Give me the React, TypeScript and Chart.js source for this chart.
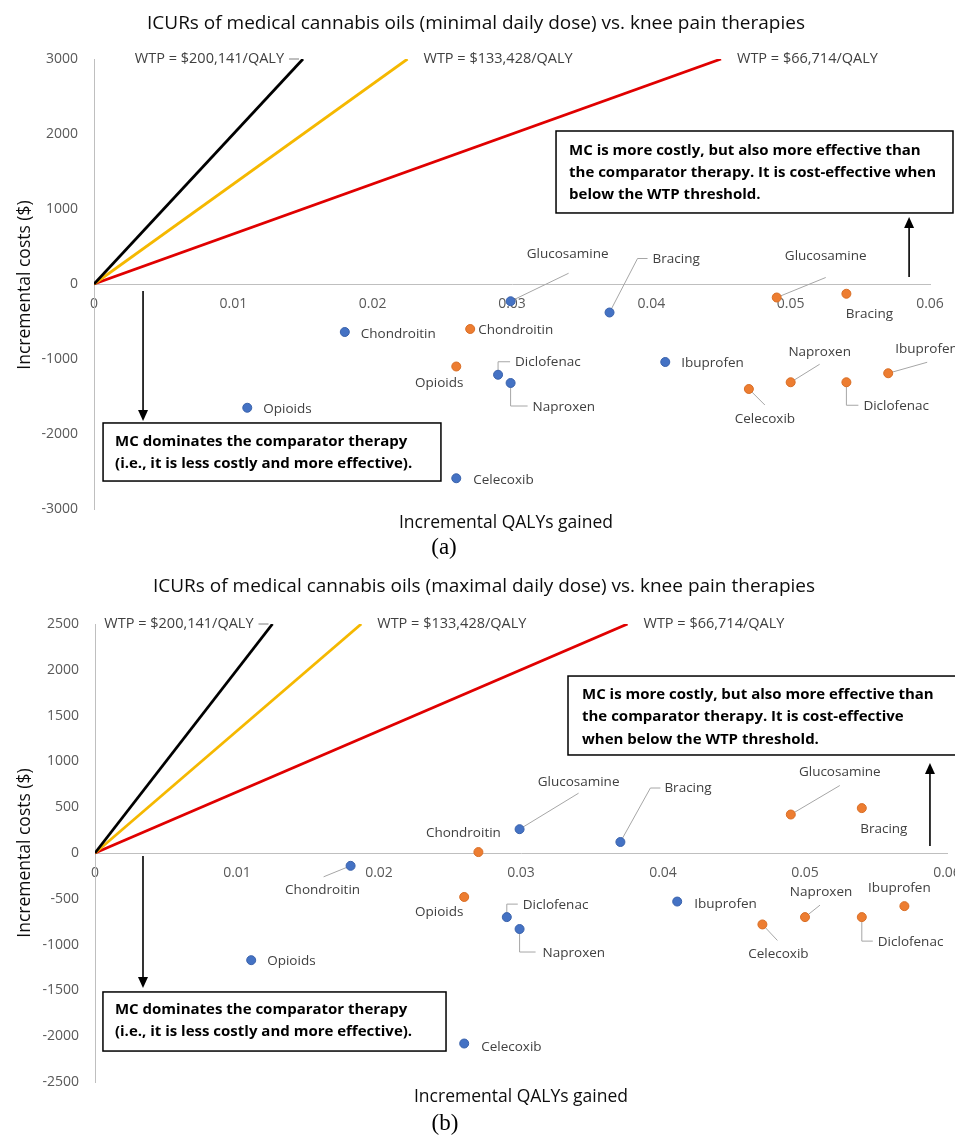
import React, { useEffect, useRef } from "react";
import { Chart, registerables } from "chart.js";

Chart.register(...registerables);

// ---------------- DATA ----------------
const therapies = ["Opioids", "Chondroitin", "Glucosamine", "Bracing", "Diclofenac", "Naproxen", "Ibuprofen", "Celecoxib"];

// (a) minimal daily dose
const minBlueQaly = [0.011, 0.018, 0.0299, 0.037, 0.029, 0.0299, 0.041, 0.026];
const minBlueCost = [-1650, -640, -230, -380, -1210, -1320, -1040, -2590];
const minOrangeQaly = [0.026, 0.027, 0.049, 0.054, 0.054, 0.05, 0.057, 0.047];
const minOrangeCost = [-1100, -600, -180, -130, -1310, -1310, -1190, -1400];

// (b) maximal daily dose
const maxBlueQaly = [0.011, 0.018, 0.0299, 0.037, 0.029, 0.0299, 0.041, 0.026];
const maxBlueCost = [-1170, -140, 260, 120, -700, -830, -530, -2080];
const maxOrangeQaly = [0.026, 0.027, 0.049, 0.054, 0.054, 0.05, 0.057, 0.047];
const maxOrangeCost = [-480, 10, 420, 490, -700, -700, -580, -780];

// WTP threshold lines (end point QALY where line reaches the top of the axis)
const wtpLabels = ["WTP = $200,141/QALY", "WTP = $133,428/QALY", "WTP = $66,714/QALY"];
const wtpEndQalyA = [0.015, 0.0225, 0.045];
const wtpEndQalyB = [0.0125, 0.01875, 0.0375];

const xTickLabels = ["0", "0.01", "0.02", "0.03", "0.04", "0.05", "0.06"];
const yTicksA = [3000, 2000, 1000, 0, -1000, -2000, -3000];
const yTicksB = [2500, 2000, 1500, 1000, 500, 0, -500, -1000, -1500, -2000, -2500];

const titleA = "ICURs of medical cannabis oils (minimal daily dose) vs. knee pain therapies";
const titleB = "ICURs of medical cannabis oils (maximal daily dose) vs. knee pain therapies";
const xTitle = "Incremental QALYs gained";
const yTitle = "Incremental costs ($)";
const boxTopA = ["MC is more costly, but also more effective than", "the comparator therapy. It is cost-effective when", "below the WTP threshold."];
const boxTopB = ["MC is more costly, but also more effective than", "the comparator therapy. It is cost-effective", "when below the WTP threshold."];
const boxBottom = ["MC dominates the comparator therapy", "(i.e., it is less costly and more effective)."];

// ---------------- STYLE / LAYOUT ----------------
const FONT = '"Open Sans", "Noto Sans", sans-serif';
const BLUE = "#4472C4";
const ORANGE = "#ED7D31";
const WTP_COLORS = ["#000000", "#F5B800", "#E00000"];

type LabelSpec = { dx: number; dy: number; align: "left" | "center"; leader?: number[][] };

// order follows `therapies`
const labelsMinBlue: LabelSpec[] = [
  { dx: 16, dy: 1, align: "left" },
  { dx: 16, dy: 2, align: "left" },
  { dx: 57, dy: -47, align: "center", leader: [[0, 0], [58, -28]] },
  { dx: 43, dy: -53, align: "left", leader: [[0, 0], [28, -54], [38, -54]] },
  { dx: 17, dy: -13, align: "left", leader: [[0, -3], [0, -13], [12, -13]] },
  { dx: 22, dy: 24, align: "left", leader: [[0, 3], [0, 23], [17, 23]] },
  { dx: 16, dy: 1, align: "left" },
  { dx: 17, dy: 2, align: "left" },
];
const labelsMinOrange: LabelSpec[] = [
  { dx: -17, dy: 17, align: "center" },
  { dx: 8, dy: 1, align: "left" },
  { dx: 49, dy: -41, align: "center", leader: [[0, 0], [49, -20]] },
  { dx: 23, dy: 20, align: "center" },
  { dx: 17, dy: 24, align: "left", leader: [[0, 3], [0, 23], [12, 23]] },
  { dx: 29, dy: -30, align: "center", leader: [[0, 0], [29, -18]] },
  { dx: 7, dy: -24, align: "left", leader: [[0, 0], [39, -11]] },
  { dx: 16, dy: 30, align: "center", leader: [[0, 0], [16, 16]] },
];
const labelsMaxBlue: LabelSpec[] = [
  { dx: 16, dy: 1, align: "left" },
  { dx: -28, dy: 24, align: "center", leader: [[0, 0], [-27, 11]] },
  { dx: 59, dy: -47, align: "center", leader: [[0, 0], [59, -36]] },
  { dx: 44, dy: -54, align: "left", leader: [[0, 0], [30, -54], [40, -54]] },
  { dx: 16, dy: -12, align: "left", leader: [[0, -3], [0, -13], [11, -13]] },
  { dx: 23, dy: 24, align: "left", leader: [[0, 3], [0, 23], [16, 23]] },
  { dx: 17, dy: 3, align: "left" },
  { dx: 17, dy: 4, align: "left" },
];
const labelsMaxOrange: LabelSpec[] = [
  { dx: -25, dy: 15, align: "center" },
  { dx: -15, dy: -19, align: "center" },
  { dx: 49, dy: -42, align: "center", leader: [[0, 0], [49, -29]] },
  { dx: 22, dy: 21, align: "center" },
  { dx: 16, dy: 25, align: "left", leader: [[0, 3], [0, 24], [11, 24]] },
  { dx: 16, dy: -25, align: "center", leader: [[0, 0], [15, -12]] },
  { dx: -5, dy: -18, align: "center" },
  { dx: 16, dy: 30, align: "center", leader: [[0, 0], [15, 16]] },
];

interface Box {
  x0: number;
  x1: number;
  y0: number;
  y1: number;
  lines: string[];
  tx: number;
  ty: number[];
}

interface Spec {
  width: number;
  height: number;
  top: number;
  axisLeft: number;
  padTop: number;
  padRight: number;
  padBottom: number;
  yMin: number;
  yMax: number;
  yStep: number;
  yTicks: number[];
  blueQaly: number[];
  blueCost: number[];
  orangeQaly: number[];
  orangeCost: number[];
  blueLabels: LabelSpec[];
  orangeLabels: LabelSpec[];
  wtpEnd: number[];
  title: string;
  titlePos: number[];
  xTitlePos: number[];
  yTitlePos: number[];
  caption: string;
  captionPos: number[];
  topBox: Box;
  bottomBox: Box;
  upArrow: { x: number; from: number; to: number };
  downArrow: { x: number; from: number; to: number };
}

const specA: Spec = {
  width: 955,
  height: 565,
  top: 0,
  axisLeft: 94,
  padTop: 59,
  padRight: 25,
  padBottom: 56,
  yMin: -3000,
  yMax: 3000,
  yStep: 1000,
  yTicks: yTicksA,
  blueQaly: minBlueQaly,
  blueCost: minBlueCost,
  orangeQaly: minOrangeQaly,
  orangeCost: minOrangeCost,
  blueLabels: labelsMinBlue,
  orangeLabels: labelsMinOrange,
  wtpEnd: wtpEndQalyA,
  title: titleA,
  titlePos: [476, 24],
  xTitlePos: [506, 523],
  yTitlePos: [25, 285],
  caption: "(a)",
  captionPos: [444, 548],
  topBox: { x0: 0.03316, x1: 0.06165, y0: 2040, y1: 947, lines: boxTopA, tx: 13, ty: [20, 42, 64] },
  bottomBox: { x0: 0.00065, x1: 0.0249, y0: -1853, y1: -2627, lines: boxBottom, tx: 12, ty: [19, 41] },
  upArrow: { x: 0.0585, from: 93, to: 893 },
  downArrow: { x: 0.00352, from: -93, to: -1827 },
};

const specB: Spec = {
  width: 955,
  height: 572,
  top: 565,
  axisLeft: 95,
  padTop: 59,
  padRight: 8,
  padBottom: 55,
  yMin: -2500,
  yMax: 2500,
  yStep: 500,
  yTicks: yTicksB,
  blueQaly: maxBlueQaly,
  blueCost: maxBlueCost,
  orangeQaly: maxOrangeQaly,
  orangeCost: maxOrangeCost,
  blueLabels: labelsMaxBlue,
  orangeLabels: labelsMaxOrange,
  wtpEnd: wtpEndQalyB,
  title: titleB,
  titlePos: [484, 22],
  xTitlePos: [521, 532],
  yTitlePos: [25, 288],
  caption: "(b)",
  captionPos: [445, 559],
  topBox: { x0: 0.03331, x1: 0.0607, y0: 1932, y1: 1070, lines: boxTopB, tx: 14, ty: [19, 41, 64] },
  bottomBox: { x0: 0.00056, x1: 0.02472, y0: -1517, y1: -2162, lines: boxBottom, tx: 12, ty: [18, 40] },
  upArrow: { x: 0.0588, from: 76, to: 983 },
  downArrow: { x: 0.00338, from: -33, to: -1474 },
};

function drawArrow(ctx: CanvasRenderingContext2D, x: number, y1: number, y2: number) {
  const dir = y2 > y1 ? 1 : -1;
  ctx.strokeStyle = "#000";
  ctx.fillStyle = "#000";
  ctx.lineWidth = 1.6;
  ctx.beginPath();
  ctx.moveTo(x, y1);
  ctx.lineTo(x, y2 - dir * 9);
  ctx.stroke();
  ctx.beginPath();
  ctx.moveTo(x, y2);
  ctx.lineTo(x - 5, y2 - dir * 11);
  ctx.lineTo(x + 5, y2 - dir * 11);
  ctx.closePath();
  ctx.fill();
}

function makePlugin(spec: Spec) {
  return {
    id: "annotations",
    beforeDatasetsDraw(chart: any) {
      const ctx: CanvasRenderingContext2D = chart.ctx;
      ctx.save();
      ctx.strokeStyle = "#A6A6A6";
      ctx.lineWidth = 1;
      const sets: [number, LabelSpec[]][] = [
        [3, spec.blueLabels],
        [4, spec.orangeLabels],
      ];
      sets.forEach(([di, labels]) => {
        const meta = chart.getDatasetMeta(di);
        meta.data.forEach((pt: any, j: number) => {
          const l = labels[j];
          if (!l || !l.leader) return;
          ctx.beginPath();
          l.leader.forEach((p, k) => {
            const px = pt.x + p[0];
            const py = pt.y + p[1];
            if (k === 0) ctx.moveTo(px, py);
            else ctx.lineTo(px, py);
          });
          ctx.stroke();
        });
      });
      ctx.restore();
    },
    afterDraw(chart: any) {
      const ctx: CanvasRenderingContext2D = chart.ctx;
      const xs = chart.scales.x;
      const ys = chart.scales.y;
      const X = (v: number) => xs.getPixelForValue(v);
      const Y = (v: number) => ys.getPixelForValue(v);
      ctx.save();

      // title
      ctx.fillStyle = "#0d0d0d";
      ctx.font = `19px ${FONT}`;
      ctx.textAlign = "center";
      ctx.textBaseline = "middle";
      ctx.fillText(spec.title, spec.titlePos[0], spec.titlePos[1]);

      // axis titles
      ctx.font = `17.5px ${FONT}`;
      ctx.fillText(xTitle, spec.xTitlePos[0], spec.xTitlePos[1]);
      ctx.save();
      ctx.translate(spec.yTitlePos[0], spec.yTitlePos[1]);
      ctx.rotate(-Math.PI / 2);
      ctx.fillText(yTitle, 0, 0);
      ctx.restore();

      // caption
      ctx.fillStyle = "#000";
      ctx.font = `23px "Liberation Serif", "Times New Roman", serif`;
      ctx.fillText(spec.caption, spec.captionPos[0], spec.captionPos[1]);

      // WTP labels
      ctx.font = `14.5px ${FONT}`;
      ctx.fillStyle = "#404040";
      spec.wtpEnd.forEach((e, i) => {
        const ex = X(e);
        const ey = Y(spec.yMax);
        if (i === 0) {
          ctx.textAlign = "right";
          ctx.fillText(wtpLabels[i], ex - 19, ey);
          ctx.strokeStyle = "#7f7f7f";
          ctx.lineWidth = 1;
          ctx.beginPath();
          ctx.moveTo(ex - 14, ey);
          ctx.lineTo(ex - 4, ey);
          ctx.stroke();
        } else {
          ctx.textAlign = "left";
          ctx.fillText(wtpLabels[i], ex + 16, ey);
        }
      });

      // data labels
      ctx.font = `13.5px ${FONT}`;
      ctx.fillStyle = "#404040";
      const sets: [number, LabelSpec[]][] = [
        [3, spec.blueLabels],
        [4, spec.orangeLabels],
      ];
      sets.forEach(([di, labels]) => {
        const meta = chart.getDatasetMeta(di);
        meta.data.forEach((pt: any, j: number) => {
          const l = labels[j];
          if (!l) return;
          ctx.textAlign = l.align;
          ctx.fillText(therapies[j], pt.x + l.dx, pt.y + l.dy);
        });
      });

      // boxes
      [spec.topBox, spec.bottomBox].forEach((b) => {
        const left = X(b.x0);
        const right = X(b.x1);
        const top = Y(b.y0);
        const bottom = Y(b.y1);
        ctx.fillStyle = "#fff";
        ctx.fillRect(left, top, right - left, bottom - top);
        ctx.strokeStyle = "#000";
        ctx.lineWidth = 1.5;
        ctx.strokeRect(left, top, right - left, bottom - top);
        ctx.fillStyle = "#000";
        ctx.font = `bold 15px ${FONT}`;
        ctx.textAlign = "left";
        b.lines.forEach((t, k) => ctx.fillText(t, left + b.tx, top + b.ty[k]));
      });

      // arrows
      drawArrow(ctx, X(spec.upArrow.x), Y(spec.upArrow.from), Y(spec.upArrow.to));
      drawArrow(ctx, X(spec.downArrow.x), Y(spec.downArrow.from), Y(spec.downArrow.to));

      ctx.restore();
    },
  };
}

function buildConfig(spec: Spec): any {
  const toPts = (xs: number[], ys: number[]) => xs.map((x, i) => ({ x, y: ys[i] }));
  const wtpSets = spec.wtpEnd.map((e, i) => ({
    type: "line",
    label: wtpLabels[i],
    data: [
      { x: 0, y: 0 },
      { x: e, y: spec.yMax },
    ],
    borderColor: WTP_COLORS[i],
    borderWidth: 2.8,
    pointRadius: 0,
    fill: false,
    tension: 0,
    order: 2,
  }));
  return {
    type: "scatter",
    data: {
      datasets: [
        ...wtpSets,
        {
          type: "scatter",
          label: "Blue",
          data: toPts(spec.blueQaly, spec.blueCost),
          backgroundColor: BLUE,
          borderColor: "#3A62AB",
          borderWidth: 1,
          pointRadius: 4.5,
          order: 1,
        },
        {
          type: "scatter",
          label: "Orange",
          data: toPts(spec.orangeQaly, spec.orangeCost),
          backgroundColor: ORANGE,
          borderColor: "#D86E26",
          borderWidth: 1,
          pointRadius: 4.5,
          order: 1,
        },
      ],
    },
    options: {
      animation: false,
      responsive: false,
      devicePixelRatio: 1,
      layout: { padding: { left: 0, top: spec.padTop, right: spec.padRight, bottom: spec.padBottom } },
      plugins: {
        legend: { display: false },
        tooltip: { enabled: false },
        title: { display: false },
      },
      scales: {
        x: {
          type: "linear",
          min: 0,
          max: 0.06,
          position: { y: 0 },
          grid: { display: false, drawTicks: false },
          border: { display: true, color: "#BFBFBF", width: 1 },
          ticks: {
            stepSize: 0.01,
            padding: 12,
            maxRotation: 0,
            autoSkip: false,
            color: "#595959",
            font: { family: FONT, size: 14 },
            callback: (v: number, i: number) => xTickLabels[i] ?? String(v),
          },
          afterFit: (s: any) => {
            s.paddingLeft = 0;
            s.paddingRight = 0;
          },
        },
        y: {
          type: "linear",
          min: spec.yMin,
          max: spec.yMax,
          position: "left",
          grid: { display: false, drawTicks: false },
          border: { display: true, color: "#BFBFBF", width: 1 },
          ticks: {
            stepSize: spec.yStep,
            padding: 16,
            autoSkip: false,
            color: "#595959",
            font: { family: FONT, size: 14 },
            callback: (v: number) => String(v),
          },
          afterFit: (s: any) => {
            s.width = spec.axisLeft;
            s.paddingTop = 0;
            s.paddingBottom = 0;
          },
        },
      },
    },
    plugins: [makePlugin(spec)],
  };
}

function ICURChart({ spec }: { spec: Spec }) {
  const ref = useRef<HTMLCanvasElement | null>(null);
  useEffect(() => {
    if (!ref.current) return;
    const chart = new Chart(ref.current, buildConfig(spec));
    return () => chart.destroy();
  }, [spec]);
  return (
    <canvas
      ref={ref}
      width={spec.width}
      height={spec.height}
      style={{ position: "absolute", left: 0, top: spec.top, width: spec.width, height: spec.height }}
    />
  );
}

export default function App() {
  return (
    <div style={{ position: "absolute", left: 0, top: 0, width: 955, height: 1137, background: "#fff", overflow: "hidden" }}>
      <ICURChart spec={specA} />
      <ICURChart spec={specB} />
    </div>
  );
}
